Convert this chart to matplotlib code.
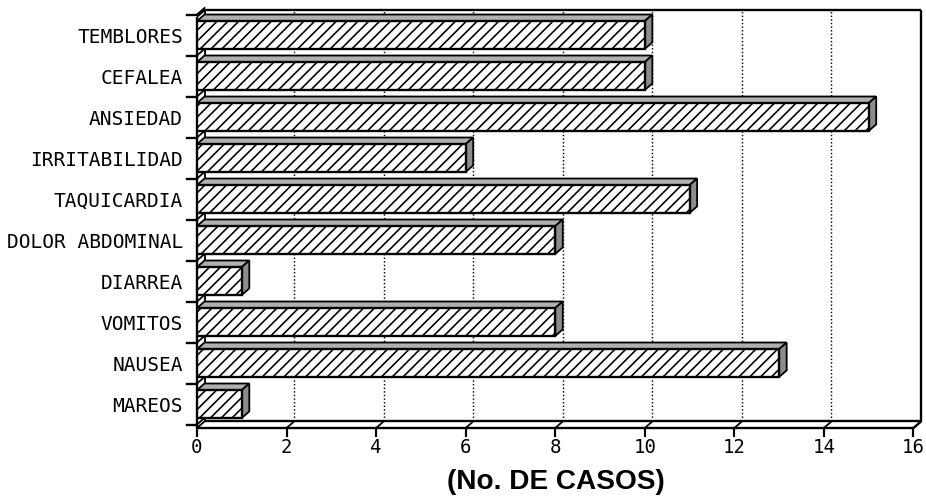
import matplotlib
matplotlib.use('Agg')
import matplotlib.pyplot as plt
from matplotlib.patches import Polygon

# datos (de abajo hacia arriba)
sintomas = ['MAREOS', 'NAUSEA', 'VOMITOS', 'DIARREA', 'DOLOR ABDOMINAL',
            'TAQUICARDIA', 'IRRITABILIDAD', 'ANSIEDAD', 'CEFALEA', 'TEMBLORES']
casos = [1, 13, 8, 1, 8, 11, 6, 15, 10, 10]
x_ticks = [0, 2, 4, 6, 8, 10, 12, 14, 16]
x_label = '(No. DE CASOS)'

DPI = 130
plt.rcParams['hatch.linewidth'] = 0.9
fig = plt.figure(figsize=(926 / DPI, 500 / DPI), dpi=DPI)
ax = fig.add_axes([197 / 926, (500 - 428) / 500, (921 - 197) / 926, (428 - 10) / 500])

dx = 0.168   # profundidad en x
dy = 0.16    # profundidad en y
ybot = -0.585
ytop = 9.61
xmax = x_ticks[-1]
ax.set_xlim(0, xmax + dx)
ax.set_ylim(ybot, ytop)
ax.axis('off')

kw = dict(color='black', lw=1.3, clip_on=False, solid_capstyle='butt')
# pared del fondo y piso
ax.plot([dx, xmax + dx], [ytop, ytop], **kw)
ax.plot([xmax + dx, xmax + dx], [ybot + dy, ytop], **kw)
ax.plot([dx, xmax + dx], [ybot + dy, ybot + dy], **kw)
ax.plot([0, xmax], [ybot, ybot], **kw)
ax.plot([xmax, xmax + dx], [ybot, ybot + dy], **kw)
# pared izquierda
ax.plot([0, 0], [ybot, ytop - dy], **kw)
ax.plot([dx, dx], [ybot + dy, ytop], lw=1.0, color='black', clip_on=False)
ax.plot([0, dx], [ytop - dy, ytop], **kw)

# rejilla punteada y marcas del eje x
for t in x_ticks:
    if 0 < t < xmax:
        ax.plot([t + dx, t + dx], [ybot + dy, ytop], color='black', lw=0.8,
                ls=(0, (1, 1.5)), zorder=1)
    ax.plot([t, t + dx], [ybot, ybot + dy], color='black', lw=1.0, clip_on=False)
    ax.plot([t, t], [ybot, ybot - 0.2], color='black', lw=1.2, clip_on=False)
    ax.text(t, ybot - 0.48, str(t), ha='center', va='center',
            fontsize=10.5, family='DejaVu Sans Mono')

# marcas del eje y
n = len(sintomas)
for k in range(n + 1):
    yb = k - 0.5
    ax.plot([-0.22, 0], [yb, yb], color='black', lw=1.3, clip_on=False)
    ax.plot([0, dx], [yb, yb + dy], color='black', lw=1.0, clip_on=False)

# barras 3D
h = 0.68
for i, (nombre, v) in enumerate(zip(sintomas, casos)):
    y0, y1 = i - h / 2, i + h / 2
    top = Polygon([(0, y1), (v, y1), (v + dx, y1 + dy), (dx, y1 + dy)],
                  closed=True, facecolor='#b0b0b0', edgecolor='black', lw=1.0, zorder=3)
    side = Polygon([(v, y0), (v + dx, y0 + dy), (v + dx, y1 + dy), (v, y1)],
                   closed=True, facecolor='#8c8c8c', edgecolor='black', lw=1.0, zorder=3)
    ax.add_patch(top)
    ax.add_patch(side)
    ax.barh(i, v, height=h, left=0, color='white', edgecolor='black',
            hatch='////', lw=1.3, zorder=4)
    ax.text(-0.31, i - 0.06, nombre, ha='right', va='center',
            fontsize=10.8, family='DejaVu Sans Mono')

fig.text(556 / 926, 1 - 482 / 500, x_label, ha='center', va='center',
         fontsize=15.5, fontweight='bold', family='Liberation Sans')

fig.savefig('out.png', dpi=DPI, facecolor='white')
